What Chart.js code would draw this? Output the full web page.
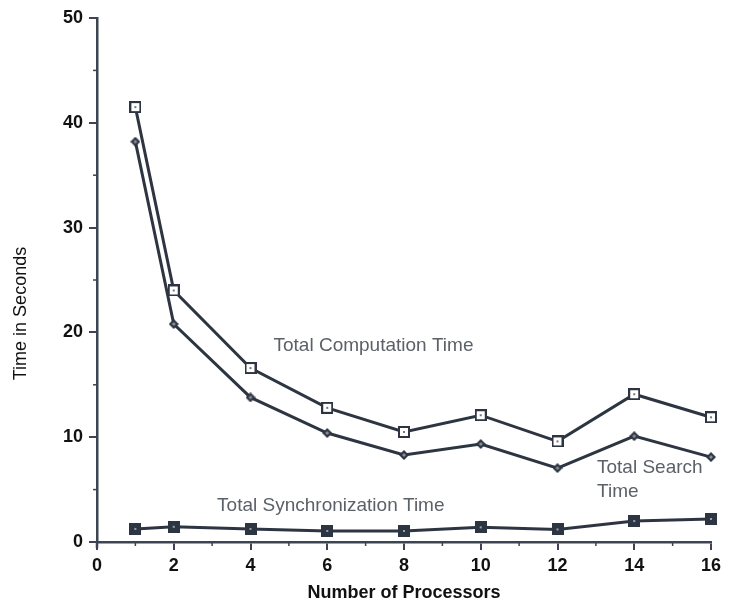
<!DOCTYPE html>
<html>
<head>
<meta charset="utf-8">
<script src="https://cdn.jsdelivr.net/npm/chart.js@4/dist/chart.umd.min.js"></script>
<style>
  html, body { margin: 0; padding: 0; background: #fff; }
  canvas { display: block; }
</style>
</head>
<body>
<canvas id="chart" width="732" height="607"></canvas>
<script>
// data
const processors = [1, 2, 4, 6, 8, 10, 12, 14, 16]
const computationTime = [41.5, 24.0, 16.6, 12.8, 10.5, 12.1, 9.6, 14.1, 11.9]
const searchTime = [38.2, 20.8, 13.8, 10.4, 8.3, 9.35, 7.05, 10.1, 8.1]
const syncTime = [1.25, 1.45, 1.25, 1.05, 1.05, 1.4, 1.2, 2.0, 2.2]
const xTicks = [0, 2, 4, 6, 8, 10, 12, 14, 16]
const yTicks = [0, 10, 20, 30, 40, 50]
const seriesNames = ['Total Computation Time', 'Total Search Time', 'Total Synchronization Time']

const ink = '#2e3542'
const axisInk = '#3d4452'
const fontFam = '"Liberation Sans", Arial, Helvetica, sans-serif'

function marker(size, draw) {
  const c = document.createElement('canvas')
  c.width = size; c.height = size
  draw(c.getContext('2d'), size)
  return c
}
const openSquare = marker(12, (g, s) => {
  g.fillStyle = '#fff'; g.fillRect(1, 1, s - 2, s - 2)
  g.strokeStyle = ink; g.lineWidth = 2; g.strokeRect(1, 1, s - 2, s - 2)
  g.fillStyle = '#777'; g.fillRect(5, 5, 2, 2)
})
const diamond = marker(10, (g, s) => {
  g.fillStyle = ink
  g.beginPath(); g.moveTo(s / 2, 0); g.lineTo(s, s / 2); g.lineTo(s / 2, s); g.lineTo(0, s / 2); g.closePath(); g.fill()
  g.fillStyle = '#8a8f98'
  g.beginPath(); g.moveTo(s / 2, 3); g.lineTo(s - 3, s / 2); g.lineTo(s / 2, s - 3); g.lineTo(3, s / 2); g.closePath(); g.fill()
})
const filledSquare = marker(12, (g, s) => {
  g.fillStyle = ink; g.fillRect(0, 0, s, s)
  g.fillStyle = '#9aa0a8'; g.fillRect(5, 5, 2, 2)
})

function pts(ys) { return processors.map((x, i) => ({ x: x, y: ys[i] })) }

// minor ticks + free text labels
const extras = {
  id: 'extras',
  afterDraw(chart) {
    const { ctx, scales: { x, y }, chartArea } = chart
    ctx.save()
    ctx.strokeStyle = axisInk
    ctx.lineWidth = 1.5
    for (let v = 1; v < 16; v += 2) {
      const px = x.getPixelForValue(v)
      ctx.beginPath(); ctx.moveTo(px, chartArea.bottom); ctx.lineTo(px, chartArea.bottom + 4); ctx.stroke()
    }
    for (let v = 5; v < 50; v += 10) {
      const py = y.getPixelForValue(v)
      ctx.beginPath(); ctx.moveTo(chartArea.left - 4, py); ctx.lineTo(chartArea.left, py); ctx.stroke()
    }
    // y axis reaches a little under the x axis
    ctx.lineWidth = 2.5
    ctx.beginPath(); ctx.moveTo(chartArea.left, chartArea.bottom); ctx.lineTo(chartArea.left, chartArea.bottom + 6); ctx.stroke()
    // y axis title
    ctx.fillStyle = '#111'
    ctx.font = '18px ' + fontFam
    ctx.textAlign = 'center'
    ctx.textBaseline = 'middle'
    ctx.translate(21, y.getPixelForValue(21.8))
    ctx.rotate(-Math.PI / 2)
    ctx.fillText('Time in Seconds', 0, 0)
    ctx.setTransform(1, 0, 0, 1, 0, 0)
    // series labels
    ctx.fillStyle = '#5c6068'
    ctx.font = '19px ' + fontFam
    ctx.textAlign = 'left'
    ctx.fillText(seriesNames[0], x.getPixelForValue(4.6), y.getPixelForValue(18.7))
    ctx.fillText('Total Search', x.getPixelForValue(13.03), y.getPixelForValue(7.06))
    ctx.fillText('Time', x.getPixelForValue(13.03), y.getPixelForValue(4.77))
    ctx.fillText(seriesNames[2], x.getPixelForValue(3.13), y.getPixelForValue(3.45))
    ctx.restore()
  }
}

new Chart(document.getElementById('chart'), {
  type: 'line',
  data: {
    datasets: [
      { label: seriesNames[0], data: pts(computationTime), pointStyle: openSquare },
      { label: seriesNames[1], data: pts(searchTime), pointStyle: diamond },
      { label: seriesNames[2], data: pts(syncTime), pointStyle: filledSquare }
    ].map(d => Object.assign(d, {
      borderColor: ink, borderWidth: 3, tension: 0, fill: false, clip: false
    }))
  },
  options: {
    responsive: false,
    animation: false,
    events: [],
    layout: { padding: { top: 18, right: 21, left: 0, bottom: 0 } },
    plugins: { legend: { display: false }, tooltip: { enabled: false } },
    scales: {
      x: {
        type: 'linear', min: 0, max: 16,
        afterFit(s) { s.height = 65 },
        afterBuildTicks(s) { s.ticks = xTicks.map(v => ({ value: v })) },
        ticks: { color: '#111', font: { family: fontFam, size: 18, weight: 'bold' }, padding: 5, maxRotation: 0 },
        grid: { drawOnChartArea: false, tickLength: 8, color: axisInk, lineWidth: 2 },
        border: { color: axisInk, width: 2.5 },
        title: { display: true, text: 'Number of Processors', color: '#111', font: { family: fontFam, size: 18, weight: 'bold' }, padding: { top: 0, bottom: 3 } }
      },
      y: {
        min: 0, max: 50,
        afterFit(s) { s.width = 97 },
        afterBuildTicks(s) { s.ticks = yTicks.map(v => ({ value: v })) },
        ticks: { color: '#111', font: { family: fontFam, size: 18, weight: 'bold' }, padding: 6 },
        grid: { drawOnChartArea: false, tickLength: 8, color: axisInk, lineWidth: 2 },
        border: { color: axisInk, width: 2.5 }
      }
    }
  },
  plugins: [extras]
})
</script>
</body>
</html>
